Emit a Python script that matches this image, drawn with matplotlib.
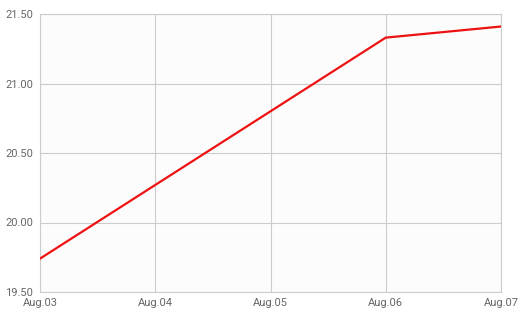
import matplotlib.pyplot as plt

# chart data
dates = ['Aug.03', 'Aug.04', 'Aug.05', 'Aug.06', 'Aug.07']
values = [19.74, 20.27, 20.80, 21.33, 21.41]
y_ticks = [19.50, 20.00, 20.50, 21.00, 21.50]

plt.rcParams['font.family'] = ['Roboto', 'DejaVu Sans']

fig = plt.figure(figsize=(5.19, 3.19), dpi=100)
ax = fig.add_axes([40 / 519, 27 / 319, 461 / 519, 278 / 319])
ax.set_facecolor('#fdfcfd')

x = list(range(len(dates)))
ax.plot(x, values, color='#ee1111', linewidth=1.6, zorder=3)

ax.set_xlim(0, len(dates) - 1)
ax.set_ylim(19.5, 21.5)
ax.set_xticks(x)
ax.set_xticklabels(dates)
ax.set_yticks(y_ticks)
ax.set_yticklabels(['%.2f' % v for v in y_ticks])

ax.grid(True, color='#cccccc', linewidth=0.8)
for s in ax.spines.values():
    s.set_color('#cccccc')
    s.set_linewidth(0.8)
ax.tick_params(length=0, labelsize=8, colors='#666666', pad=5)
ax.tick_params(axis='x', pad=4)

fig.savefig('out.png', dpi=100)
